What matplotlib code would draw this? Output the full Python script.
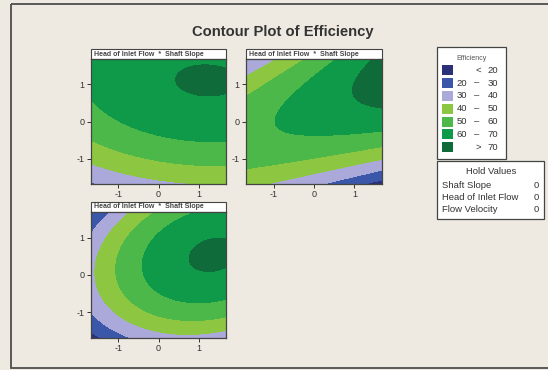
import numpy as np
import matplotlib
matplotlib.use('Agg')
import matplotlib.pyplot as plt
from matplotlib.patches import Rectangle

plt.rcParams['font.family'] = ['Liberation Sans', 'DejaVu Sans']
plt.rcParams['axes.unicode_minus'] = False

W, H = 548, 370
ALPHA = 1.682   # axial distance of the design, in coded units

levels = [20, 30, 40, 50, 60, 70]
colors = ['#2b3178', '#3b57a9', '#aba9d9', '#8dc641', '#4db84a', '#0e9a48', '#0f6b3a']
legend_lo = ['<', '20', '30', '40', '50', '60', '>']
legend_hi = ['20', '30', '40', '50', '60', '70', '70']

panel_title = 'Head of Inlet Flow  *  Shaft Slope'
hold_names = ['Shaft Slope', 'Head of Inlet Flow', 'Flow Velocity']
hold_values = [0, 0, 0]

# response surface of each panel, estimated from the contour positions:
# Efficiency = b0 + bx*x + by*y + bxx*x^2 + byy*y^2 + bxy*x*y
p1_coef = [63.92, 2.98, 8.99, -1.13, -3.94, -0.23]
p2_coef = [63.36, 2.54, 6.24, -0.99, -7.40, 6.37]
p3_coef = [63.81, 9.11, 4.68, -3.74, -7.29, 2.31]


def surface(c):
    g = np.linspace(-ALPHA, ALPHA, 241)
    X, Y = np.meshgrid(g, g)
    Z = c[0] + c[1] * X + c[2] * Y + c[3] * X * X + c[4] * Y * Y + c[5] * X * Y
    return X, Y, Z


fig = plt.figure(figsize=(W / 100, H / 100), dpi=100)
fig.patch.set_facecolor('#eeeae1')

bg = fig.add_axes([0, 0, 1, 1])
bg.set_xlim(0, W)
bg.set_ylim(H, 0)
bg.axis('off')
bg.add_patch(Rectangle((11, 4), 545, 364, fill=False, ec='#4d4d4d', lw=1.3))
bg.text(283, 32, 'Contour Plot of Efficiency', ha='center', va='center',
        fontsize=10.6, weight='bold', color='#333333')


def panel(box, coef):
    x0, y0, x1, y1 = box
    ax = fig.add_axes([x0 / W, 1 - y1 / H, (x1 - x0) / W, (y1 - y0) / H])
    X, Y, Z = surface(coef)
    ax.contourf(X, Y, Z, levels=[-1e3] + levels + [1e3], colors=colors)
    ax.set_xlim(-ALPHA, ALPHA)
    ax.set_ylim(-ALPHA, ALPHA)
    ax.set_xticks([-1, 0, 1])
    ax.set_yticks([-1, 0, 1])
    ax.tick_params(labelsize=6.5, length=3, width=0.7, pad=1.5,
                   colors='#333333')
    for s in ax.spines.values():
        s.set_color('#444444')
        s.set_linewidth(0.9)
    bg.add_patch(Rectangle((x0, y0 - 10), x1 - x0, 10, fc='white',
                           ec='#444444', lw=0.8))
    bg.text(x0 + 3, y0 - 5, panel_title, ha='left', va='center',
            fontsize=5, weight='bold', color='#444444')


panel((91, 59, 226, 184), p1_coef)
panel((246, 59, 382, 184), p2_coef)
panel((91, 212, 226, 338), p3_coef)

# legend
bg.add_patch(Rectangle((437, 47), 69, 112, fc='white', ec='#444444', lw=0.9))
bg.text(471.5, 58, 'Efficiency', ha='center', va='center', fontsize=5,
        color='#555555')
for i, c in enumerate(colors):
    yc = 70.3 + 12.83 * i
    bg.add_patch(Rectangle((441.7, yc - 5), 11, 10, fc=c, ec='none'))
    if legend_lo[i] in ('<', '>'):
        bg.text(478.3, yc, legend_lo[i], ha='center', va='center', fontsize=6.8,
                color='#333333')
    else:
        bg.text(461.7, yc, legend_lo[i], ha='center', va='center', fontsize=6.8,
                color='#333333')
        bg.text(476.7, yc, '\u2013', ha='center', va='center', fontsize=6.8,
                color='#333333')
    bg.text(493, yc, legend_hi[i], ha='center', va='center', fontsize=6.8,
            color='#333333')

# hold values
bg.add_patch(Rectangle((437, 161), 107, 58, fc='white', ec='#444444', lw=0.9))
bg.text(491.5, 171, 'Hold Values', ha='center', va='center', fontsize=6.8,
        color='#333333')
for i, (n, v) in enumerate(zip(hold_names, hold_values)):
    yc = 185 + 12.2 * i
    bg.text(442.5, yc, n, ha='left', va='center', fontsize=6.8, color='#333333')
    bg.text(536, yc, str(v), ha='center', va='center', fontsize=6.8,
            color='#333333')

fig.savefig('out.png', dpi=100, facecolor=fig.get_facecolor())
